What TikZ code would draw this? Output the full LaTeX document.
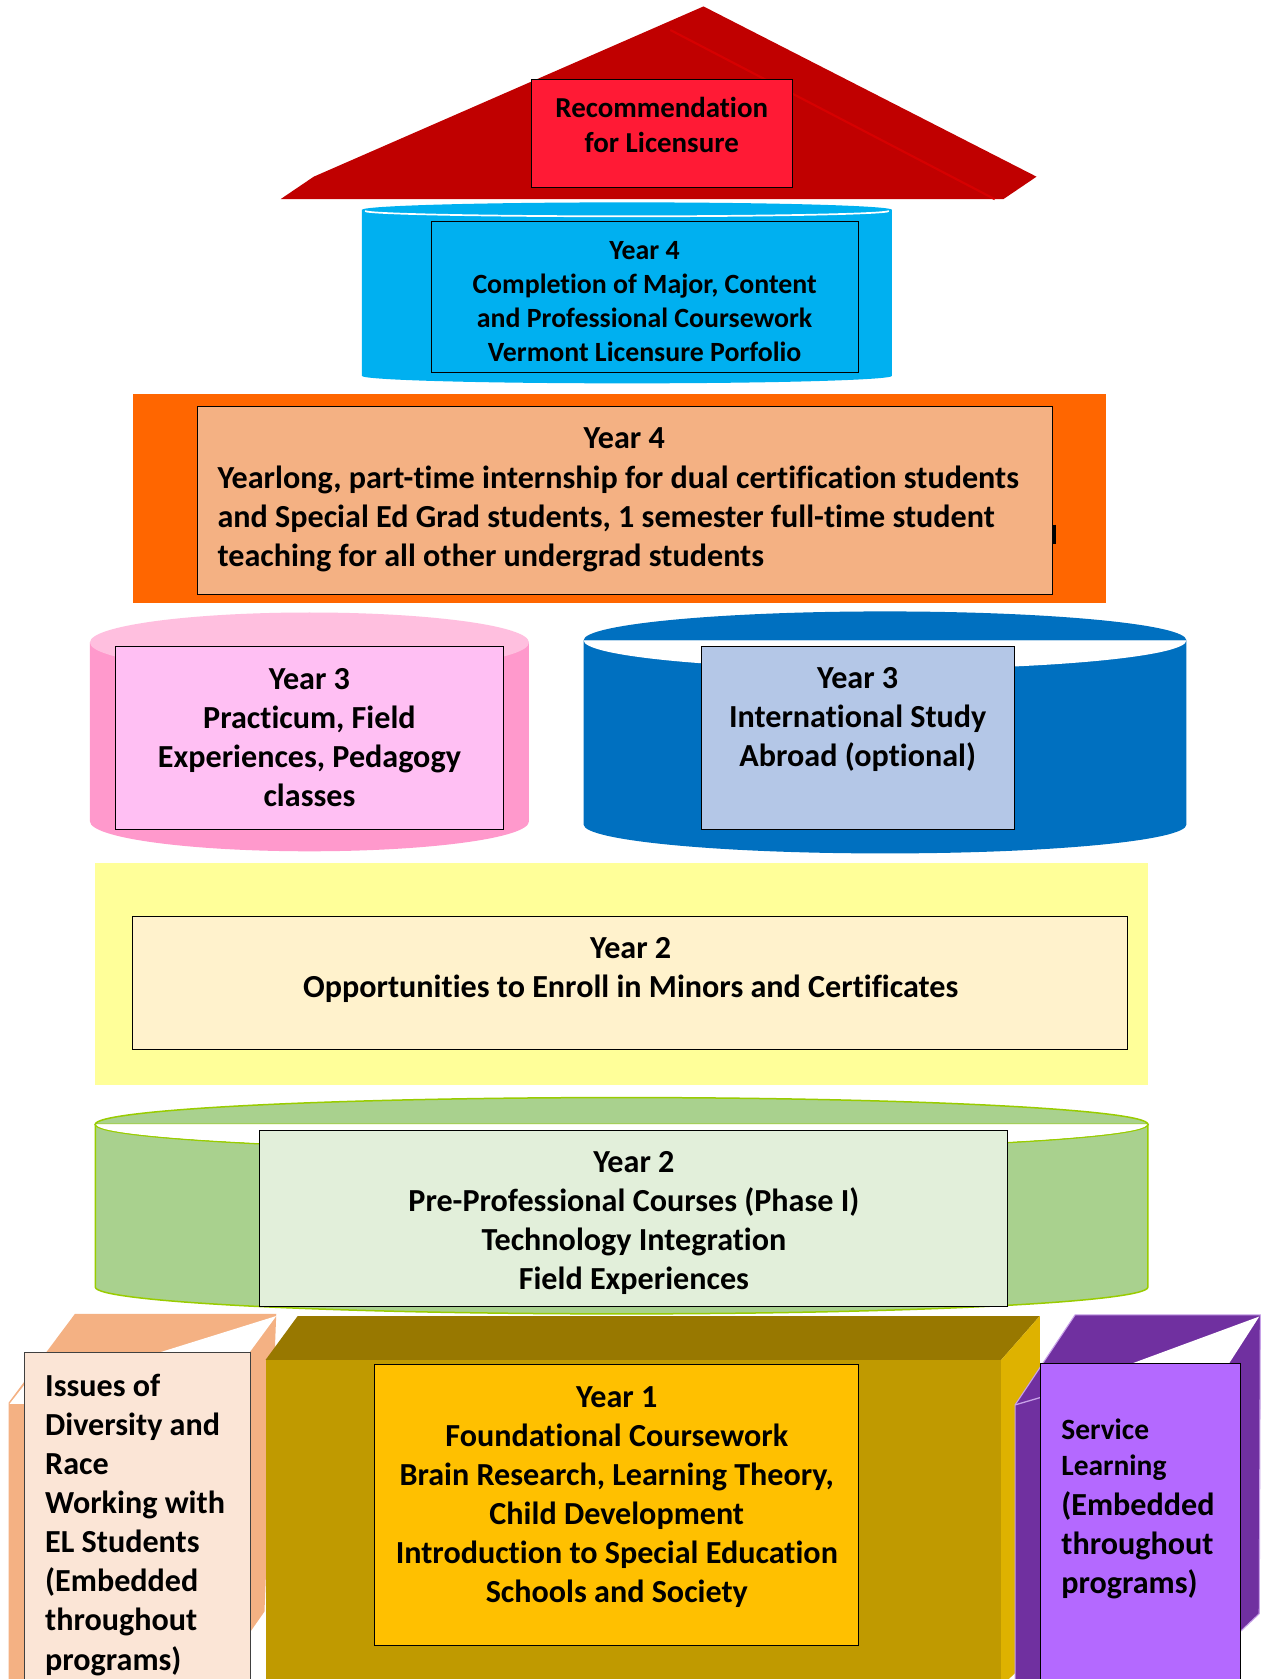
\documentclass[tikz,border=0pt]{standalone}
\usepackage{fontspec}
\setmainfont{Carlito}[Ligatures={NoCommon,NoContextual,NoRequired}, RawFeature=-calt, RawFeature=-clig, RawFeature=-liga]
\definecolor{roofred}{HTML}{C00000}
\definecolor{ridgered}{HTML}{D60000}
\definecolor{recred}{HTML}{FF1A35}
\definecolor{cyanc}{HTML}{00B0F0}
\definecolor{orangec}{HTML}{FF6600}
\definecolor{peach}{HTML}{F4B183}
\definecolor{pinkside}{HTML}{FF99CC}
\definecolor{pinktop}{HTML}{FFBFDF}
\definecolor{pinkbox}{HTML}{FFBFF3}
\definecolor{darkblue}{HTML}{0070C0}
\definecolor{lightblue}{HTML}{B4C7E7}
\definecolor{yellowc}{HTML}{FFFF99}
\definecolor{cream}{HTML}{FFF2CC}
\definecolor{greenc}{HTML}{A9D18E}
\definecolor{greenedge}{HTML}{99CC00}
\definecolor{greenbox}{HTML}{E2EFDA}
\definecolor{olivefront}{HTML}{C09A00}
\definecolor{olivetop}{HTML}{987800}
\definecolor{oliveside}{HTML}{DEB200}
\definecolor{goldbox}{HTML}{FFC000}
\definecolor{peachfront}{HTML}{FBE5D6}
\definecolor{purpledark}{HTML}{7030A0}
\definecolor{purpleedge}{HTML}{C8A2E8}
\definecolor{purplebox}{HTML}{B469FF}
\begin{document}
\begin{tikzpicture}[x=1pt,y=-1pt,
  box/.style={draw=black, line width=0.9pt, anchor=north west, inner sep=0pt, outer sep=0pt},
  txt/.style={font=\bfseries\fontsize{30}{36.5}\selectfont, align=center, inner sep=0pt, text=black},
  txtl/.style={txt, align=left, anchor=west},
]
\useasboundingbox (0,0) rectangle (1180,1568);
\clip (0,0) rectangle (1180,1568);
\fill[white] (0,0) rectangle (1180,1568);

% ---------- roof ----------
\fill[roofred] (262,186) -- (293,165) -- (657,6) -- (968,165) -- (937,186) -- cycle;
\draw[ridgered, line width=2pt] (626,28) -- (929,186);
\node[box, fill=recred, minimum width=244pt, minimum height=101pt] (rec) at (496,74) {};
\node[txt, font=\bfseries\fontsize{27}{33}\selectfont] (rect) at (618,117) {Recommendation\\for Licensure};

% ---------- cyan cylinder ----------
\fill[cyanc] (338,196) -- (338,351) arc[start angle=180, end angle=0, x radius=247.5, y radius=7] -- (833,196) -- cycle;
\fill[cyanc] (585.5,196) ellipse [x radius=247.5, y radius=7];
\draw[white, line width=1.6pt] (341,197) arc[start angle=180, end angle=0, x radius=244.5, y radius=5];
\node[box, fill=cyanc, minimum width=399pt, minimum height=141pt] (y4a) at (403,207) {};
\node[txt, font=\bfseries\fontsize{26}{31.8}\selectfont] (y4at) at (602,282) {Year 4\\Completion of Major, Content\\and Professional Coursework\\Vermont Licensure Porfolio};

% ---------- orange block ----------
\fill[orangec] (124,368) rectangle (1033,563);
\node[box, fill=peach, minimum width=799pt, minimum height=175pt] (y4b) at (184,380) {};
\draw[black, line width=2.5pt] (985,490) -- (985,508);
\node[txt] (y4bt) at (583,409) {Year 4};
\node[txtl] (y4bl) at (203,485) {Yearlong, part-time internship for dual certification students\\and Special Ed Grad students, 1 semester full-time student\\teaching for all other undergrad students};

% ---------- pink cylinder ----------
\fill[pinkside] (84,600) -- (84,767) arc[start angle=180, end angle=0, x radius=205, y radius=28] -- (494,600) -- cycle;
\fill[pinktop] (289,600) ellipse [x radius=205, y radius=28];
\node[box, fill=pinkbox, minimum width=362pt, minimum height=171pt] (y3a) at (108,604) {};
\node[txt] (y3at) at (289,688.5) {Year 3\\Practicum, Field\\Experiences, Pedagogy\\classes};

% ---------- dark blue cylinder ----------
\fill[darkblue] (545,598) -- (545,770) arc[start angle=180, end angle=0, x radius=281.5, y radius=27] -- (1108,598) -- cycle;
\fill[darkblue] (545,598) arc[start angle=180, end angle=360, x radius=281.5, y radius=27] -- cycle;
\fill[white] (545,598) arc[start angle=180, end angle=0, x radius=281.5, y radius=27] -- cycle;
\node[box, fill=lightblue, minimum width=292pt, minimum height=171pt] (y3b) at (655,604) {};
\node[txt] (y3bt) at (801,672) {Year 3\\International Study\\Abroad (optional)};

% ---------- yellow block ----------
\fill[yellowc] (89,806) rectangle (1072,1013);
\node[box, fill=cream, minimum width=929pt, minimum height=124pt] (y2a) at (124,856) {};
\node[txt] (y2at) at (589,906) {Year 2\\Opportunities to Enroll in Minors and Certificates};

% ---------- green cylinder ----------
\filldraw[fill=greenc, draw=greenedge, line width=1.4pt] (89,1050) -- (89,1202) arc[start angle=180, end angle=0, x radius=491.5, y radius=25] -- (1072,1050) -- cycle;
\filldraw[fill=greenc, draw=greenedge, line width=1.4pt] (89,1050) arc[start angle=180, end angle=360, x radius=491.5, y radius=25] -- cycle;
\filldraw[fill=white, draw=greenedge, line width=1.4pt] (89,1050) arc[start angle=180, end angle=0, x radius=491.5, y radius=25];
\fill[white] (90,1050) arc[start angle=180, end angle=0, x radius=490.5, y radius=24] -- cycle;
\node[box, fill=greenbox, minimum width=699pt, minimum height=164pt] (y2b) at (242,1056) {};
\node[txt] (y2bt) at (592,1142) {Year 2\\Pre-Professional Courses (Phase I)\\Technology Integration\\Field Experiences};

% ---------- left peach cube ----------
\fill[peach] (8,1575) -- (8,1310) -- (70,1227) -- (258,1227) -- (247,1505) -- (233,1525) -- (233,1575) -- cycle;
\fill[white] (258,1229) -- (149,1263) -- (233,1263) -- cycle;
\fill[white] (9,1311) -- (23,1293) -- (23,1311) -- cycle;
\node[box, draw=black!75, fill=peachfront, minimum width=211pt, minimum height=320pt] (div) at (23,1263) {};
\node[txtl] (divt) at (42,1424) {Issues of\\Diversity and\\Race\\Working with\\EL Students\\(Embedded\\throughout\\programs)};

% ---------- olive box ----------
\fill[olivefront] (248,1270) rectangle (935,1575);
\fill[olivetop] (248,1270) -- (278,1229) -- (971,1229) -- (935,1270) -- cycle;
\fill[oliveside] (935,1270) -- (971,1229) -- (971,1540) -- (935,1575) -- cycle;
\node[box, fill=goldbox, minimum width=452pt, minimum height=263pt] (y1) at (350,1274) {};
\node[txt] (y1t) at (576,1398) {Year 1\\Foundational Coursework\\Brain Research, Learning Theory,\\Child Development\\Introduction to Special Education\\Schools and Society};

% ---------- right purple cube ----------
\filldraw[fill=purpledark, draw=purpleedge, line width=1pt] (948,1575) -- (948,1312) -- (1004,1228) -- (1177,1228) -- (1176,1507) -- (1158,1524) -- (1158,1575) -- cycle;
\fill[white] (1176,1229.5) -- (1058,1273) -- (1148,1273) -- cycle;
\draw[purpleedge, line width=1.2pt] (948,1312) -- (972,1305);
\node[box, fill=purplebox, minimum width=186pt, minimum height=310pt] (svc) at (972,1273) {};
\node[txtl, font=\bfseries\fontsize{27.5}{34}\selectfont] (svct1) at (991,1354) {Service\\Learning};
\node[txtl] (svct2) at (991,1443) {(Embedded\\throughout\\programs)};
\end{tikzpicture}
\end{document}
